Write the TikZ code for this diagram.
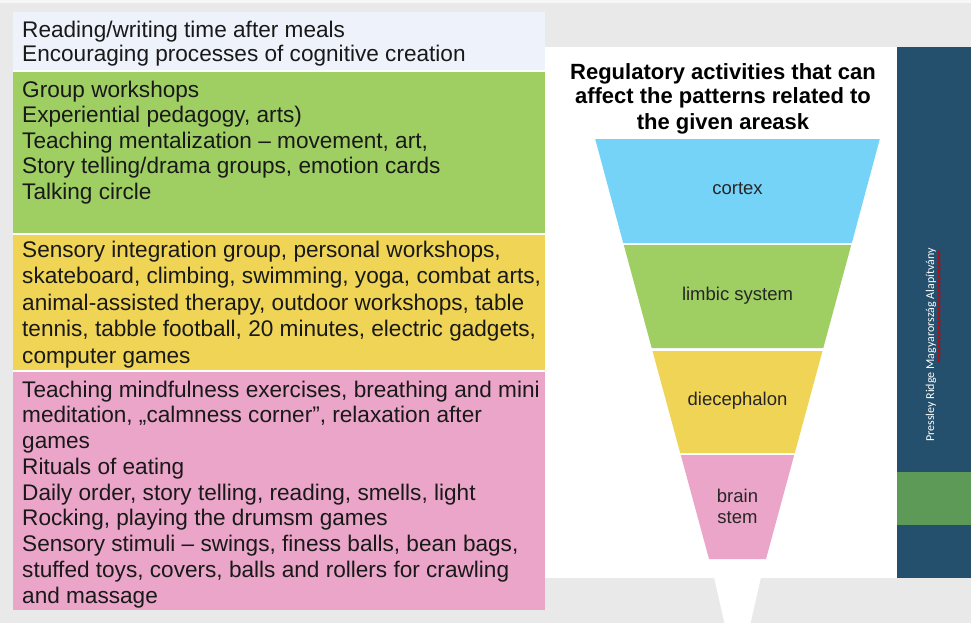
\documentclass[tikz,border=0pt]{standalone}
\usepackage{fontspec}
\setmainfont{Liberation Sans}
\newfontfamily\sidefont{Carlito}
\usetikzlibrary{decorations.pathmorphing}

\definecolor{slidegray}{HTML}{E9E9E9}
\definecolor{paleblue}{HTML}{EEF3FB}
\definecolor{leafgreen}{HTML}{9FCE63}
\definecolor{sunyellow}{HTML}{EFD455}
\definecolor{rosepink}{HTML}{EAA5C8}
\definecolor{skyblue}{HTML}{74D3F7}
\definecolor{navyside}{HTML}{24506E}
\definecolor{sidegreen}{HTML}{5D9A57}

\begin{document}
\begin{tikzpicture}[x=1pt,y=-1pt,
    every node/.style={inner sep=0pt},
    listtext/.style={anchor=base west, align=left, text=black!90},
    funnellabel/.style={align=center, text=black!85, font=\fontsize{18.5}{21}\selectfont}]
  \useasboundingbox (0,0) rectangle (971,623);
  % background and slide
  \fill[slidegray] (0,0) rectangle (971,623);
  \fill[white!60!slidegray] (0,0) rectangle (971,3);
  \fill[white] (13,47) rectangle (897,578);
  \fill[navyside] (897,47) rectangle (971,578);
  \fill[sidegreen] (897,472) rectangle (971,525);

  % left column (nodes sit on the baseline of their last line)
  \fill[paleblue]  (13,12) rectangle (545,70);
  \fill[leafgreen] (13,72) rectangle (545,233);
  \fill[sunyellow] (13,235) rectangle (545,370);
  \fill[rosepink]  (13,372) rectangle (545,610);

  \node[listtext, font=\fontsize{22.6}{24}\selectfont] (cognitive) at (22,62)
    {Reading/writing time after meals\\
     Encouraging processes of cognitive creation};
  \node[listtext, font=\fontsize{22.6}{25.5}\selectfont] (emotional) at (22,199)
    {Group workshops\\
     Experiential pedagogy, arts)\\
     Teaching mentalization -- movement, art,\\
     Story telling/drama groups, emotion cards\\
     Talking circle};
  \node[listtext, font=\fontsize{22.6}{26.5}\selectfont] (motor) at (22,363)
    {Sensory integration group, personal workshops,\\
     skateboard, climbing, swimming, yoga, combat arts,\\
     animal-assisted therapy, outdoor workshops, table\\
     tennis, tabble football, 20 minutes, electric gadgets,\\
     computer games};
  \node[listtext, font=\fontsize{22.6}{25.75}\selectfont] (calming) at (22,603)
    {Teaching mindfulness exercises, breathing and mini\\
     meditation, „calmness corner”, relaxation after\\
     games\\
     Rituals of eating\\
     Daily order, story telling, reading, smells, light\\
     Rocking, playing the drumsm games\\
     Sensory stimuli -- swings, finess balls, bean bags,\\
     stuffed toys, covers, balls and rollers for crawling\\
     and massage};

  % title
  \node[align=center, font=\fontsize{22}{25}\selectfont\bfseries, anchor=base] (title) at (723,129)
    {Regulatory activities that can\\
     affect the patterns related to\\
     the given areask};

  % funnel
  \fill[skyblue]   (595.2,139) -- (879.8,139) -- (851.8,243) -- (623.2,243) -- cycle;
  \fill[leafgreen] (623.8,245) -- (851.2,245) -- (823.3,348) -- (651.7,348) -- cycle;
  \fill[sunyellow] (652.5,351) -- (822.5,351) -- (794.8,453) -- (680.2,453) -- cycle;
  \fill[rosepink]  (680.8,455) -- (794.2,455) -- (766.0,559) -- (709.0,559) -- cycle;
  \fill[white]     (714.2,578) -- (760.8,578) -- (750.6,623) -- (724.4,623) -- cycle;
  \node[funnellabel] (cortex)  at (737.5,189) {cortex};
  \node[funnellabel] (limbic)  at (737.5,296) {limbic system};
  \node[funnellabel] (dience)  at (737.5,401) {diecephalon};
  \node[funnellabel] (stem)    at (737.5,506) {brain\\stem};

  % side bar
  \node[rotate=90, text=white, font=\sidefont\fontsize{12}{14}\selectfont] (brand) at (931,345)
    {Pressley Ridge Magyarország Alapítvány};
  \draw[red!80!black, line width=0.8pt, decorate,
        decoration={snake, amplitude=1.1pt, segment length=3.5pt}] (939,362) -- (939,250);
\end{tikzpicture}
\end{document}
